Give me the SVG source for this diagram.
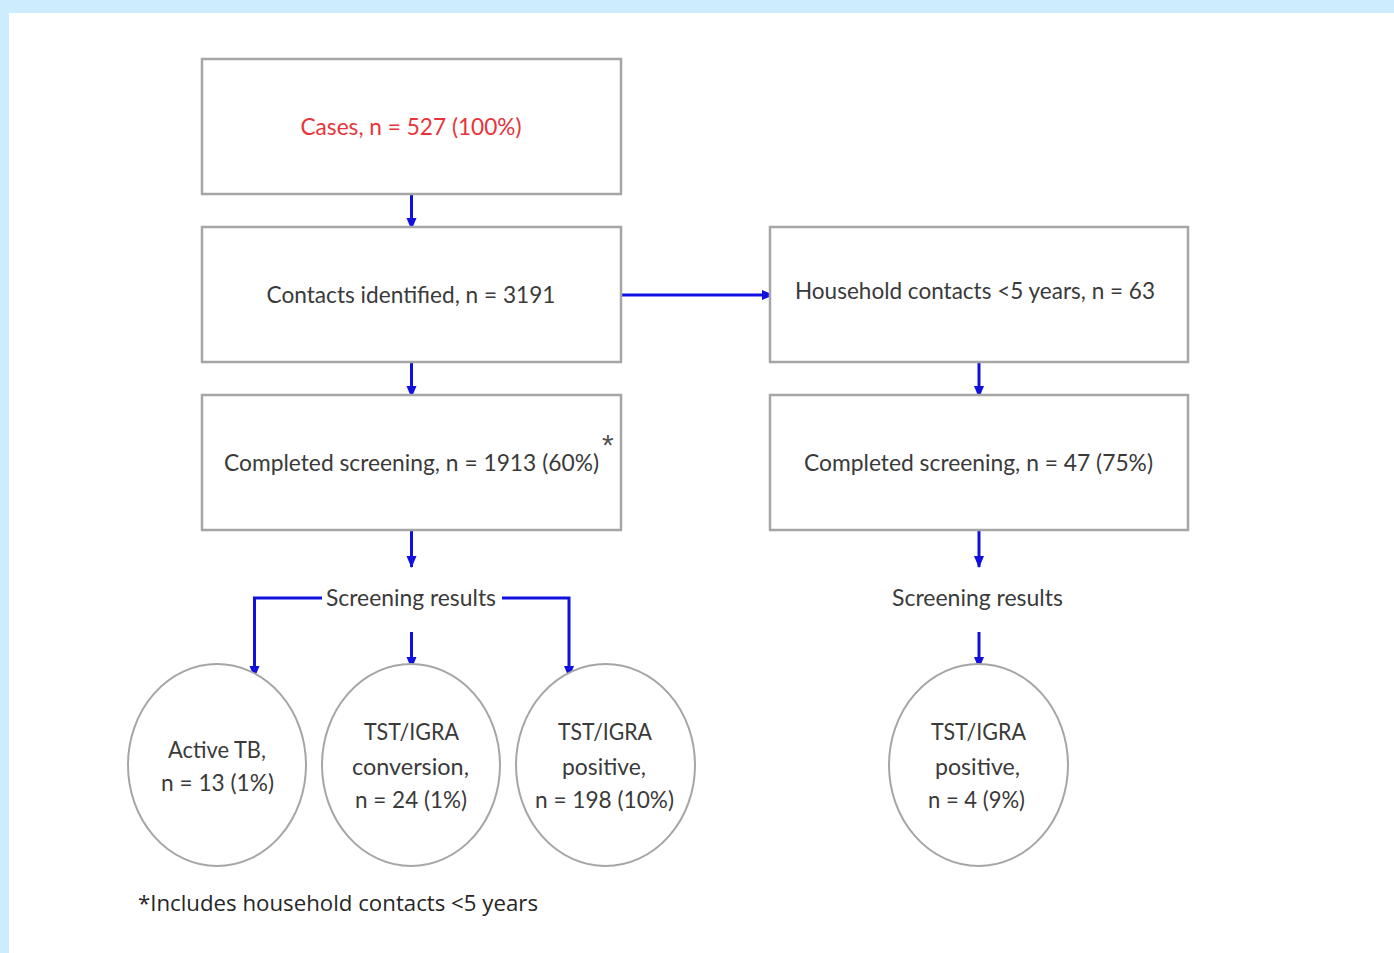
<svg xmlns="http://www.w3.org/2000/svg" width="1394" height="953" viewBox="0 0 1394 953">
<style>
.box{fill:#fff;stroke:#a6a6a6;stroke-width:2.5}
.circ{fill:#fff;stroke:#a6a6a6;stroke-width:2}
.t{font-family:Lato,"Open Sans","Liberation Sans",sans-serif;font-size:23px;fill:#3a3a3a;text-anchor:middle}
.red{fill:#e8333a}
.con{fill:none;stroke:#1010e0;stroke-width:3}
.foot{font-family:"Open Sans","Liberation Sans",sans-serif;font-size:21px;fill:#262626}
</style>
<defs>
<marker id="ah" markerWidth="14" markerHeight="12" refX="11" refY="6" orient="auto" markerUnits="userSpaceOnUse">
<path d="M0,1 L12,6 L0,11 Z" fill="#1010e0"/>
</marker>
</defs>
<rect x="0" y="0" width="1394" height="953" fill="#fff"/>
<rect x="0" y="0" width="1394" height="13" fill="#cdecfd"/>
<rect x="0" y="0" width="9" height="953" fill="#cdecfd"/>

<g id="connectors">
<path class="con" d="M411.5,194 V229" marker-end="url(#ah)"/>
<path class="con" d="M411.5,362 V397" marker-end="url(#ah)"/>
<path class="con" d="M411.5,530 V567" marker-end="url(#ah)"/>
<path class="con" d="M621,295 H773" marker-end="url(#ah)"/>
<path class="con" d="M979,362 V397" marker-end="url(#ah)"/>
<path class="con" d="M979,530 V567" marker-end="url(#ah)"/>
<path class="con" d="M322,598 H254.5 V677" marker-end="url(#ah)"/>
<path class="con" d="M502,598 H569 V677" marker-end="url(#ah)"/>
<path class="con" d="M411.5,632 V668" marker-end="url(#ah)"/>
<path class="con" d="M979,632 V668" marker-end="url(#ah)"/>
</g>

<g id="cases">
<rect class="box" x="202" y="59" width="419" height="135"/>
<text class="t red" x="411" y="135" textLength="221" lengthAdjust="spacingAndGlyphs">Cases, n = 527 (100%)</text>
</g>
<g id="contacts">
<rect class="box" x="202" y="227" width="419" height="135"/>
<text class="t" x="411" y="303" textLength="289" lengthAdjust="spacingAndGlyphs">Contacts identified, n = 3191</text>
</g>
<g id="household">
<rect class="box" x="770" y="227" width="418" height="135"/>
<text class="t" x="975" y="299" textLength="360" lengthAdjust="spacingAndGlyphs">Household contacts &lt;5 years, n = 63</text>
</g>
<g id="screening-all">
<rect class="box" x="202" y="395" width="419" height="135"/>
<text class="t" x="411.5" y="471" textLength="375" lengthAdjust="spacingAndGlyphs">Completed screening, n = 1913 (60%)</text>
<text x="602" y="455" style="font-family:'Liberation Sans',sans-serif;font-size:30px;fill:#555">*</text>
</g>
<g id="screening-hh">
<rect class="box" x="770" y="395" width="418" height="135"/>
<text class="t" x="978.5" y="471" textLength="349" lengthAdjust="spacingAndGlyphs">Completed screening, n = 47 (75%)</text>
</g>
<g id="results-left">
<text class="t" x="411" y="606" textLength="170" lengthAdjust="spacingAndGlyphs">Screening results</text>
</g>
<g id="results-right">
<text class="t" x="977.5" y="606" textLength="171" lengthAdjust="spacingAndGlyphs">Screening results</text>
</g>
<g id="active-tb">
<ellipse class="circ" cx="217" cy="765" rx="89" ry="101"/>
<text class="t" x="217" y="758" textLength="98" lengthAdjust="spacingAndGlyphs">Active TB,</text>
<text class="t" x="217.5" y="791" textLength="113" lengthAdjust="spacingAndGlyphs">n = 13 (1%)</text>
</g>
<g id="conversion">
<ellipse class="circ" cx="411" cy="765" rx="89" ry="101"/>
<text class="t" x="411.5" y="740" textLength="95" lengthAdjust="spacingAndGlyphs">TST/IGRA</text>
<text class="t" x="410.5" y="775" textLength="117" lengthAdjust="spacingAndGlyphs">conversion,</text>
<text class="t" x="411" y="808" textLength="112" lengthAdjust="spacingAndGlyphs">n = 24 (1%)</text>
</g>
<g id="positive-all">
<ellipse class="circ" cx="605.5" cy="765" rx="89.5" ry="101"/>
<text class="t" x="605" y="740" textLength="94" lengthAdjust="spacingAndGlyphs">TST/IGRA</text>
<text class="t" x="604" y="775" textLength="84" lengthAdjust="spacingAndGlyphs">positive,</text>
<text class="t" x="604.5" y="808" textLength="139" lengthAdjust="spacingAndGlyphs">n = 198 (10%)</text>
</g>
<g id="positive-hh">
<ellipse class="circ" cx="978.5" cy="765" rx="89.5" ry="101"/>
<text class="t" x="978.5" y="740" textLength="95" lengthAdjust="spacingAndGlyphs">TST/IGRA</text>
<text class="t" x="977.5" y="775" textLength="85" lengthAdjust="spacingAndGlyphs">positive,</text>
<text class="t" x="976.5" y="808" textLength="97" lengthAdjust="spacingAndGlyphs">n = 4 (9%)</text>
</g>
<g id="footnote">
<text class="foot" x="138" y="911" textLength="400" lengthAdjust="spacingAndGlyphs">*Includes household contacts &lt;5 years</text>
</g>
</svg>
